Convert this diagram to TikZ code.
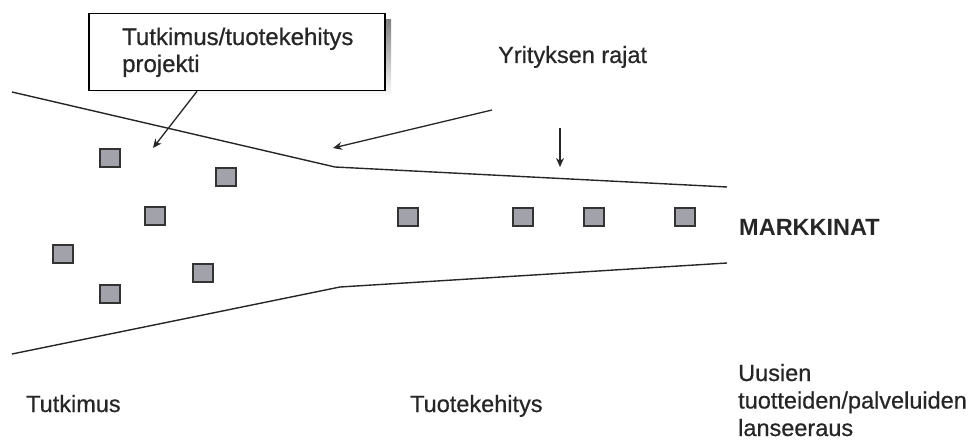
\documentclass[tikz,border=0pt]{standalone}
\usepackage{fontspec}
\setmainfont[UprightFeatures={FakeBold=0.6}]{Liberation Sans}
\usetikzlibrary{arrows.meta}
\definecolor{boxgrey}{RGB}{162,162,170}
\definecolor{shade}{RGB}{190,190,190}
\begin{document}
\begin{tikzpicture}[x=1pt,y=-1pt,
  bound/.style={line width=1.4pt,black!85},
  pointer/.style={line width=1.3pt,black!85,-{Stealth[length=9pt,width=8pt]}},
  proj/.style={draw=black!80,fill=boxgrey,line width=1.8pt,minimum width=20pt,minimum height=18pt,inner sep=0pt},
  lbl/.style={font=\fontsize{23.5}{28}\selectfont,inner sep=0pt,text=black!85},
]
\useasboundingbox (0,0) rectangle (977,441);

% funnel boundaries
\coordinate (u1) at (12,92);
\coordinate (u2) at (335,167);
\coordinate (u3) at (727,187);
\coordinate (l1) at (12,354);
\coordinate (l2) at (340,287);
\coordinate (l3) at (727,263);
\draw[bound] (u1) -- (u2) -- (u3);
\draw[bound] (l1) -- (l2) -- (l3);

% callout box with drop shadow
\fill[shade] (95,20) rectangle (391,97);
\node[draw=black,line width=1.6pt,fill=white,minimum width=296pt,minimum height=77pt,inner sep=0pt]
  (callout) at (237,52) {};
\node[lbl,anchor=base west,align=left,font=\fontsize{24}{27}\selectfont] (calltext) at (122,72)
  {Tutkimus/tuotekehitys\\projekti};
\coordinate (calltip) at (153,148);
\draw[pointer] (callout.south) ++(-40,0) coordinate (callfoot) -- (calltip);

% company boundary label and arrows
\node[lbl,anchor=base west] (rajat) at (498,63) {Yrityksen rajat};
\coordinate (rajatstart) at (492,110);
\coordinate (rajattip) at (333,148);
\draw[pointer] (rajatstart) -- (rajattip);
\coordinate (downstart) at (560,128);
\coordinate (downtip) at (560,167);
\draw[pointer] (downstart) -- (downtip);

% projects
\node[proj] (p1) at (110,158) {};
\node[proj] (p2) at (226,177) {};
\node[proj] (p3) at (155,216) {};
\node[proj] (p4) at (63,254) {};
\node[proj] (p5) at (203,273) {};
\node[proj] (p6) at (110,294) {};
\node[proj] (p7) at (408,217) {};
\node[proj] (p8) at (523,217) {};
\node[proj] (p9) at (594,217) {};
\node[proj] (p10) at (685,217) {};

% labels
\node[lbl,anchor=base west,font=\fontsize{23.5}{28}\selectfont\bfseries] (markkinat) at (739,235) {MARKKINAT};
\node[lbl,anchor=base west] (tutkimus) at (26,412) {Tutkimus};
\node[lbl,anchor=base west] (tuotekehitys) at (410,412) {Tuotekehitys};
\node[lbl,anchor=base west,align=left,font=\fontsize{23.5}{27.5}\selectfont] (lanseeraus) at (738,436)
  {Uusien\\tuotteiden/palveluiden\\lanseeraus};
\end{tikzpicture}
\end{document}
